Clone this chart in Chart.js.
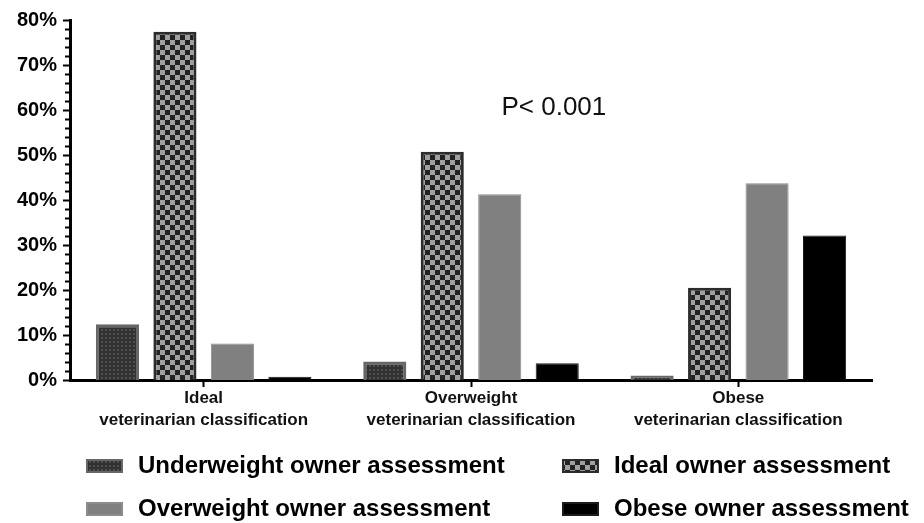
<!DOCTYPE html>
<html>
<head>
<meta charset="utf-8">
<title>Owner vs veterinarian body condition assessment</title>
<script src="https://cdn.jsdelivr.net/npm/chart.js@4.4.1/dist/chart.umd.min.js"></script>
<style>
  html, body { margin: 0; padding: 0; background: #fff; }
  #wrap { position: relative; width: 924px; height: 523px; }
</style>
</head>
<body>
<div id="wrap"><canvas id="chart"></canvas></div>
<script>
// Veterinarian classification groups (x axis), two-line labels
const categories = [
  ['Ideal', 'veterinarian classification'],
  ['Overweight', 'veterinarian classification'],
  ['Obese', 'veterinarian classification']
];

// Owner assessment shares within each veterinarian group (%)
const underweightOwner = [12.4, 4.1, 1.0];
const idealOwner = [77.4, 50.7, 20.5];
const overweightOwner = [8.1, 41.3, 43.7];
const obeseOwner = [0.7, 3.7, 32.1];

const seriesNames = [
  'Underweight owner assessment',
  'Ideal owner assessment',
  'Overweight owner assessment',
  'Obese owner assessment'
];

const yTickValues = [0, 10, 20, 30, 40, 50, 60, 70, 80];
const pValueText = 'P< 0.001';

const FONT = "'Liberation Sans', Arial, Helvetica, sans-serif";

// small repeating tiles for the patterned bars
function dottedPattern() {
  const c = document.createElement('canvas');
  c.width = 4; c.height = 4;
  const g = c.getContext('2d');
  g.fillStyle = '#323232';
  g.fillRect(0, 0, 4, 4);
  g.fillStyle = '#505050';
  g.fillRect(1, 1, 2, 2);
  return g.createPattern(c, 'repeat');
}

function checkerPattern() {
  const c = document.createElement('canvas');
  c.width = 10; c.height = 10;
  const g = c.getContext('2d');
  g.fillStyle = '#222';
  g.fillRect(0, 0, 10, 10);
  g.fillStyle = '#a0a0a0';
  g.fillRect(0, 0, 5, 5);
  g.fillRect(5, 5, 5, 5);
  return g.createPattern(c, 'repeat');
}

// y axis tick marks: long at every 10%, short at every 2%
const yTickMarks = {
  id: 'yTickMarks',
  afterDraw(chart) {
    const { ctx, chartArea, scales: { y } } = chart;
    ctx.save();
    ctx.strokeStyle = '#000';
    ctx.lineWidth = 2;
    for (let v = 0; v <= 80; v += 2) {
      const py = Math.round(y.getPixelForValue(v)) + 0.5;
      const len = v % 10 === 0 ? 6 : 4;
      ctx.beginPath();
      ctx.moveTo(chartArea.left - len - 1, py);
      ctx.lineTo(chartArea.left, py);
      ctx.stroke();
    }
    ctx.restore();
  }
};

// p-value note above the overweight/obese groups
const pValueNote = {
  id: 'pValueNote',
  afterDraw(chart) {
    const { ctx, scales: { x, y } } = chart;
    ctx.save();
    ctx.font = `26px ${FONT}`;
    ctx.fillStyle = '#111';
    ctx.textAlign = 'center';
    ctx.textBaseline = 'middle';
    ctx.fillText(pValueText, x.getPixelForValue(1.31), y.getPixelForValue(60.4));
    ctx.restore();
  }
};

// two-column legend under the axis
const bottomLegend = {
  id: 'bottomLegend',
  afterDraw(chart) {
    const { ctx } = chart;
    const cols = [86, 562];
    const rows = [466, 509];
    ctx.save();
    ctx.font = `bold 24px ${FONT}`;
    ctx.textBaseline = 'middle';
    chart.data.datasets.forEach((ds, i) => {
      const bx = cols[i % 2];
      const cy = rows[Math.floor(i / 2)];
      ctx.fillStyle = ds.borderColor;
      ctx.fillRect(bx, cy - 7, 37, 14);
      ctx.fillStyle = ds.backgroundColor;
      ctx.fillRect(bx + 2, cy - 5, 33, 10);
      ctx.fillStyle = '#000';
      ctx.fillText(ds.label, bx + 52, cy);
    });
    ctx.restore();
  }
};

const ctx = document.getElementById('chart').getContext('2d');

const chart = new Chart(ctx, {
  type: 'bar',
  data: {
    labels: categories,
    datasets: [
      {
        label: seriesNames[0],
        data: underweightOwner,
        backgroundColor: dottedPattern(),
        borderColor: '#676767',
        borderWidth: 3
      },
      {
        label: seriesNames[1],
        data: idealOwner,
        backgroundColor: checkerPattern(),
        borderColor: '#2c2c2c',
        borderWidth: 3
      },
      {
        label: seriesNames[2],
        data: overweightOwner,
        backgroundColor: '#808080',
        borderColor: '#8c8c8c',
        borderWidth: 1
      },
      {
        label: seriesNames[3],
        data: obeseOwner,
        backgroundColor: '#000000',
        borderColor: '#1c1c1c',
        borderWidth: 1
      }
    ]
  },
  options: {
    responsive: true,
    maintainAspectRatio: false,
    animation: false,
    layout: {
      padding: { top: 20, right: 52, bottom: 0, left: 0 }
    },
    datasets: {
      bar: {
        categoryPercentage: 0.86,
        barPercentage: 0.75
      }
    },
    plugins: {
      legend: { display: false },
      tooltip: { enabled: false },
      title: { display: false }
    },
    scales: {
      x: {
        afterFit: (scale) => { scale.height = 143; },
        border: { color: '#000', width: 3 },
        grid: {
          display: true,
          drawOnChartArea: false,
          drawTicks: true,
          offset: false,
          tickLength: 7,
          tickWidth: 2,
          color: '#000'
        },
        ticks: {
          color: '#111',
          padding: 0,
          maxRotation: 0,
          font: { family: FONT, size: 17, weight: 'bold', lineHeight: 1.3 }
        }
      },
      y: {
        min: 0,
        max: 80,
        afterFit: (scale) => {
          scale.width = 70;
          scale.paddingTop = 0;
          scale.paddingBottom = 0;
        },
        border: { color: '#000', width: 3 },
        grid: { display: false, drawTicks: false },
        afterBuildTicks: (scale) => {
          scale.ticks = yTickValues.map(v => ({ value: v }));
        },
        ticks: {
          color: '#000',
          padding: 13,
          autoSkip: false,
          font: { family: FONT, size: 20, weight: 'bold' },
          callback: (v) => v + '%'
        }
      }
    }
  },
  plugins: [yTickMarks, pValueNote, bottomLegend]
});
</script>
</body>
</html>
